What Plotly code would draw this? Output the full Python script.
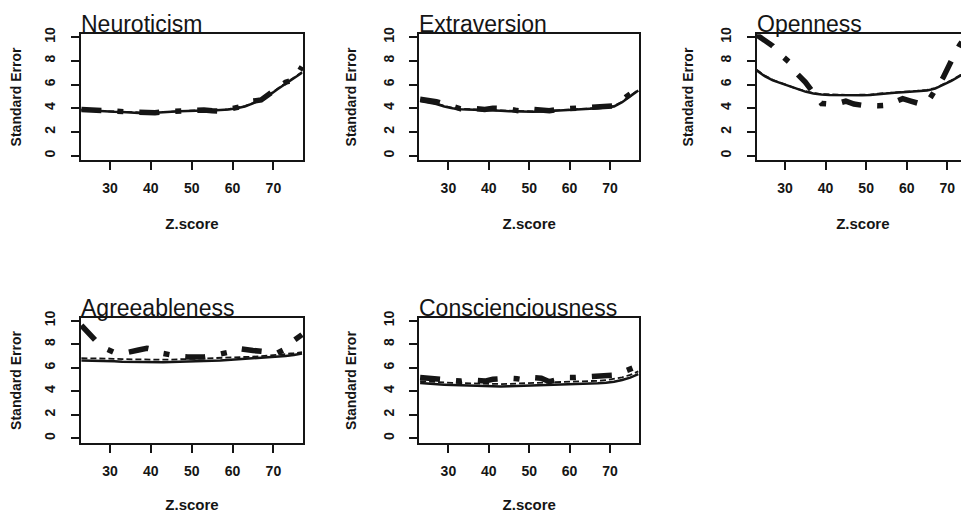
import plotly.graph_objects as go

# ---- data -------------------------------------------------------------
z_score = [23, 25, 27, 29, 31, 33, 35, 37, 39, 41, 43, 45, 47, 49,
           51, 53, 55, 57, 59, 61, 63, 65, 67, 69, 71, 73, 75, 77]

traits = ["Neuroticism", "Extraversion", "Openness",
          "Agreeableness", "Conscienciousness"]

neuro_solid = [3.85, 3.8, 3.75, 3.72, 3.7, 3.68, 3.62, 3.6, 3.58, 3.6, 3.65, 3.7, 3.75, 3.78,
               3.8, 3.8, 3.8, 3.82, 3.9, 4.0, 4.15, 4.4, 4.75, 5.1, 5.6, 6.05, 6.5, 7.0]
neuro_thin = [3.88, 3.82, 3.78, 3.75, 3.72, 3.7, 3.65, 3.62, 3.6, 3.62, 3.67, 3.72, 3.77, 3.8,
              3.82, 3.82, 3.82, 3.85, 3.92, 4.02, 4.18, 4.45, 4.8, 5.15, 5.65, 6.1, 6.55, 7.05]
neuro_dash = [3.9, 3.85, 3.78, 3.78, 3.75, 3.68, 3.68, 3.65, 3.6, 3.62, 3.7, 3.75, 3.78, 3.82,
              3.88, 3.85, 3.78, 3.75, 3.9, 4.05, 4.2, 4.6, 4.7, 5.2, 5.75, 6.2, 6.4, 7.5]

extra_solid = [4.6, 4.5, 4.35, 4.15, 4.0, 3.92, 3.88, 3.85, 3.82, 3.8, 3.78, 3.75, 3.72, 3.7,
               3.7, 3.72, 3.75, 3.78, 3.82, 3.85, 3.9, 3.95, 4.0, 4.05, 4.15, 4.5, 5.0, 5.5]
extra_thin = [4.65, 4.55, 4.4, 4.2, 4.03, 3.95, 3.9, 3.88, 3.85, 3.83, 3.8, 3.78, 3.75, 3.73,
              3.73, 3.75, 3.78, 3.8, 3.85, 3.88, 3.93, 3.98, 4.03, 4.08, 4.2, 4.55, 5.05, 5.55]
extra_dash = [4.75, 4.7, 4.55, 4.35, 4.1, 3.95, 4.0, 3.9, 3.9, 4.0, 4.0, 3.95, 3.8, 3.75,
              3.9, 3.8, 3.78, 3.9, 3.95, 4.0, 3.95, 4.0, 4.15, 4.1, 4.2, 4.7, 5.2, 5.7]

open_solid = [7.2, 6.7, 6.35, 6.1, 5.85, 5.6, 5.4, 5.25, 5.15, 5.12, 5.1, 5.1, 5.1, 5.1,
              5.12, 5.2, 5.27, 5.3, 5.35, 5.38, 5.42, 5.5, 5.65, 5.95, 6.3, 6.7, 7.1, 7.5]
open_thin = [7.25, 6.75, 6.4, 6.12, 5.88, 5.63, 5.43, 5.28, 5.18, 5.15, 5.13, 5.13, 5.13, 5.13,
             5.15, 5.23, 5.3, 5.33, 5.38, 5.42, 5.46, 5.55, 5.7, 6.0, 6.35, 6.75, 7.15, 7.55]
open_dash = [10.2, 9.7, 9.25, 8.5, 7.9, 6.9, 6.2, 5.3, 4.4, 4.35, 4.4, 4.6, 4.35, 4.25,
             4.2, 4.2, 4.25, 4.5, 4.8, 4.6, 4.4, 4.45, 5.5, 6.6, 8.0, 9.3, 10.3, 11.0]

agree_solid = [6.6, 6.6, 6.58, 6.55, 6.55, 6.5, 6.48, 6.47, 6.46, 6.46, 6.46, 6.47, 6.48, 6.5,
               6.52, 6.55, 6.58, 6.6, 6.65, 6.7, 6.72, 6.75, 6.8, 6.85, 6.9, 6.98, 7.08, 7.2]
agree_thin = [6.8, 6.8, 6.78, 6.76, 6.75, 6.72, 6.7, 6.68, 6.67, 6.67, 6.67, 6.68, 6.7, 6.72,
              6.74, 6.76, 6.78, 6.8, 6.84, 6.88, 6.9, 6.93, 6.97, 7.02, 7.07, 7.14, 7.22, 7.32]
agree_dash = [9.6, 8.9, 8.1, 7.6, 7.3, 7.2, 7.3, 7.5, 7.65, 7.5, 7.2, 7.05, 6.95, 6.9,
              6.85, 6.9, 7.0, 7.1, 7.3, 7.65, 7.5, 7.45, 7.4, 7.3, 7.25, 7.6, 8.3, 8.8]

consc_solid = [4.68, 4.62, 4.58, 4.55, 4.52, 4.5, 4.48, 4.42, 4.38, 4.38, 4.4, 4.42, 4.44, 4.45,
               4.46, 4.47, 4.5, 4.52, 4.55, 4.58, 4.6, 4.63, 4.67, 4.72, 4.8, 4.95, 5.15, 5.45]
consc_thin = [4.85, 4.8, 4.76, 4.73, 4.7, 4.68, 4.66, 4.62, 4.58, 4.58, 4.6, 4.62, 4.64, 4.65,
              4.66, 4.68, 4.7, 4.72, 4.75, 4.78, 4.8, 4.84, 4.88, 4.93, 5.02, 5.17, 5.38, 5.68]
consc_dash = [5.15, 5.1, 5.1, 5.05, 5.0, 4.85, 4.95, 4.9, 4.85, 5.0, 5.1, 5.1, 5.05, 4.95,
              5.15, 5.1, 4.8, 5.0, 5.15, 5.15, 5.2, 5.2, 5.35, 5.4, 5.35, 5.6, 5.85, 6.15]

y_ticks = [0, 2, 4, 6, 8, 10]
x_ticks = [30, 40, 50, 60, 70]

solid_series = [neuro_solid, extra_solid, open_solid, agree_solid, consc_solid]
thin_series = [neuro_thin, extra_thin, open_thin, agree_thin, consc_thin]
dash_series = [neuro_dash, extra_dash, open_dash, agree_dash, consc_dash]

# ---- layout geometry (page pixels, compensating the page offset) ------
OFFX, OFFY = 8, 12.5
W, H = 969 - OFFX, int(518 - OFFY)
col_px = [(81, 303), (419.3, 639.3), (756.7, 969)]
row_px = [(32, 160), (321, 448.3)]
x_ranges = [[22.9, 77.25], [22.8, 77.25], [23.03, 75.35]]
y_ranges = [[-0.36, 10.25], [-0.42, 10.22]]
cells = [(0, 0), (0, 1), (0, 2), (1, 0), (1, 1)]

INK = "#151515"
FONT = "Liberation Sans, Arial, sans-serif"

fig = go.Figure()
annotations = []

for i, name in enumerate(traits):
    r, c = cells[i]
    xa = "x" if i == 0 else f"x{i+1}"
    ya = "y" if i == 0 else f"y{i+1}"
    fig.add_trace(go.Scatter(x=z_score, y=solid_series[i], mode="lines",
                             line=dict(color=INK, width=2.5),
                             xaxis=xa, yaxis=ya, showlegend=False))
    fig.add_trace(go.Scatter(x=z_score, y=thin_series[i], mode="lines",
                             line=dict(color=INK, width=1.8, dash="6px,3px"),
                             xaxis=xa, yaxis=ya, showlegend=False))
    fig.add_trace(go.Scatter(x=z_score, y=dash_series[i], mode="lines",
                             line=dict(color=INK, width=5.5, dash="20px,16px,6px,16px"),
                             xaxis=xa, yaxis=ya, showlegend=False))
    x0, x1 = col_px[c]
    yt, yb = row_px[r]
    xdom = [(x0 - OFFX) / W, min((x1 - OFFX) / W, 1.0)]
    ydom = [1 - (yb - OFFY) / H, 1 - (yt - OFFY) / H]
    cropped = (c == 2)
    xkey = "xaxis" if i == 0 else f"xaxis{i+1}"
    ykey = "yaxis" if i == 0 else f"yaxis{i+1}"
    fig.update_layout(**{
        xkey: dict(domain=xdom, range=x_ranges[c], anchor=ya,
                   showgrid=False, zeroline=False,
                   showline=True, linecolor=INK, linewidth=2, mirror=True,
                   ticks="outside", ticklen=8, tickwidth=2, tickcolor=INK,
                   tickvals=x_ticks, ticklabelstandoff=6,
                   tickfont=dict(family=FONT, size=14, color=INK, weight="bold"),
                   title=dict(text="Z.score", standoff=24,
                              font=dict(family=FONT, size=15, color=INK, weight="bold"))),
        ykey: dict(domain=ydom, range=y_ranges[r], anchor=xa,
                   showgrid=False, zeroline=False,
                   showline=True, linecolor=INK, linewidth=2, mirror=not cropped,
                   ticks="outside", ticklen=8, tickwidth=2, tickcolor=INK,
                   tickvals=y_ticks, tickangle=-90, ticklabelstandoff=10,
                   tickfont=dict(family=FONT, size=14, color=INK, weight="bold"),
                   title=dict(text="Standard Error", standoff=21,
                              font=dict(family=FONT, size=14, color=INK, weight="bold"))),
    })
    annotations.append(dict(text=name, x=xdom[0], y=ydom[1], xref="paper", yref="paper",
                            xanchor="left", yanchor="bottom", showarrow=False,
                            xshift=-2, yshift=-5,
                            font=dict(family=FONT, size=23, color=INK)))

fig.update_layout(width=W, height=H, margin=dict(l=0, r=0, t=0, b=0),
                  paper_bgcolor="white", plot_bgcolor="white",
                  annotations=annotations, showlegend=False)

fig.write_html("out.html")
